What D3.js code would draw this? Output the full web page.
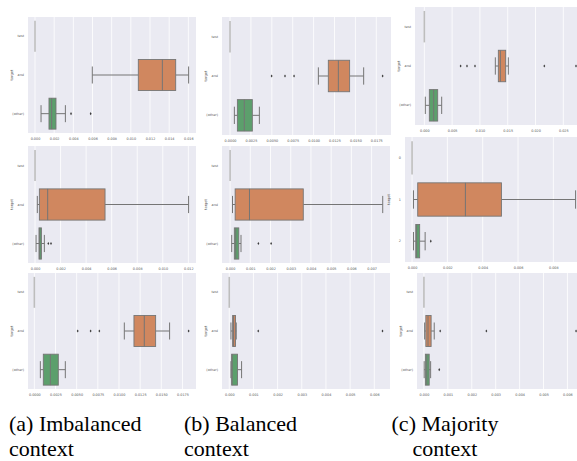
<!DOCTYPE html>
<html>
<head>
<meta charset="utf-8">
<script src="https://cdn.jsdelivr.net/npm/d3@7"></script>
<style>
  html, body { margin: 0; padding: 0; background: #fff; }
  svg { display: block; }
</style>
</head>
<body>
<div id="fig-div"></div>
<script>
// データ------------------------------------------------------------------------------
// パネル順: (a)(b)(c) x 3行
const categories = ['test', 'and', '(other)'];
const categoriesNum = ['0', '1', '2'];
const axisTitle = 'target';
const captions = [['(a) Imbalanced', 'context'], ['(b) Balanced', 'context'], ['(c) Majority', 'context']];

const xDomains = [
  [-0.00073, 0.0168], [-0.00096, 0.01926], [-0.00168, 0.02746],
  [-0.00055, 0.0126], [-0.0004, 0.00791], [-0.0004, 0.00934],
  [-0.00075, 0.0191], [-0.0003, 0.00665], [-0.00029, 0.0064]
];
const tickMax = [0.016, 0.0175, 0.025, 0.012, 0.007, 0.008, 0.0175, 0.006, 0.006];
const tickStep = [0.002, 0.0025, 0.005, 0.002, 0.001, 0.002, 0.0025, 0.001, 0.001];
const tickDigits = [3, 4, 3, 3, 3, 3, 4, 3, 3];

// [下ひげ, Q1, 中央値, Q3, 上ひげ]
const midStats = [
  [0.00598, 0.01078, 0.01329, 0.01468, 0.01603],
  [0.01057, 0.01176, 0.01296, 0.01431, 0.01599],
  [0.01277, 0.01331, 0.01367, 0.01463, 0.01511],
  [0.00018, 0.00034, 0.00099, 0.00548, 0.01202],
  [0.00012, 0.00025, 0.00096, 0.00362, 0.00755],
  [0.00008, 0.00032, 0.00302, 0.00506, 0.00926],
  [0.01063, 0.01177, 0.01299, 0.01433, 0.01598],
  [0.00007, 0.00014, 0.00018, 0.00026, 0.00029],
  [0.00003, 0.00008, 0.00017, 0.0003, 0.00043]
];
const midOutliers = [
  [],
  [0.00498, 0.00658, 0.00766, 0.01826],
  [0.00653, 0.00767, 0.00911, 0.02158, 0.02728],
  [],
  [],
  [],
  [0.00512, 0.00665, 0.00768, 0.01823],
  [0.0012, 0.00634],
  [0.00068, 0.00261, 0.00636]
];
const otherStats = [
  [0.00063, 0.00146, 0.00174, 0.00219, 0.00317],
  [0.00052, 0.00088, 0.00171, 0.00267, 0.00351],
  [0.00018, 0.0009, 0.00168, 0.0024, 0.00312],
  [0.00008, 0.00031, 0.00037, 0.0005, 0.00073],
  [0.00008, 0.00021, 0.00028, 0.00043, 0.00054],
  [0.00008, 0.00021, 0.00026, 0.00043, 0.00074],
  [0.00071, 0.00106, 0.00189, 0.00283, 0.00366],
  [0.00007, 0.0001, 0.00012, 0.00034, 0.00051],
  [0.00001, 0.00006, 0.00012, 0.00022, 0.00028]
];
const otherOutliers = [
  [0.00376, 0.00581],
  [],
  [],
  [0.00104, 0.00125],
  [0.0014, 0.00203],
  [0.00106],
  [],
  [],
  [0.00064]
];

// レイアウト [left, right, top, bottom]-------------------------------------------
const frames = [
  [28, 196, 17, 133], [222, 391, 17, 135], [415, 577, 7, 125],
  [28, 196, 146, 263], [222, 390, 146, 263], [405, 577, 137, 262],
  [28, 196, 273, 389], [222, 390, 273, 389], [417, 577, 273, 389]
];
const width = 577, height = 461;
const boxColors = ['#bdbdbd', '#d0875f', '#5c9f6c'];
const edge = '#757575';

const svg = d3.select('#fig-div')
  .append('svg')
  .attr('width', width)
  .attr('height', height);

// パネル作製ファンクション------------------------------------------------------------
const panelCreate = i => {
  const [left, right, top, bottom] = frames[i];
  const labels = i === 5 ? categoriesNum : categories;
  const x = d3.scaleLinear().domain(xDomains[i]).range([left, right]);
  const y = d3.scaleBand().domain([0, 1, 2]).range([top, bottom])
    .paddingInner(0.2).paddingOuter(0.1);
  const bw = y.bandwidth();
  const g = svg.append('g');

  // 背景とグリッド
  g.append('rect')
    .attr('x', left).attr('y', top)
    .attr('width', right - left).attr('height', bottom - top)
    .attr('fill', '#eaeaf2');
  const ticks = d3.range(0, tickMax[i] + tickStep[i] / 2, tickStep[i]);
  g.selectAll('.grid')
    .data(ticks)
    .enter()
    .append('line')
    .attr('x1', d => x(d)).attr('x2', d => x(d))
    .attr('y1', top).attr('y2', bottom)
    .attr('stroke', '#fff')
    .attr('stroke-width', 0.8);

  // x軸
  const xAxis = g.append('g')
    .attr('transform', 'translate(0,' + (bottom + 2) + ')')
    .call(d3.axisBottom(x).tickValues(ticks).tickSize(0).tickFormat(d3.format('.' + tickDigits[i] + 'f')));
  xAxis.select('.domain').remove();
  xAxis.selectAll('text')
    .attr('font-size', '3.4px')
    .attr('fill', '#555')
    .attr('font-family', 'DejaVu Sans');

  // y軸ラベル
  g.selectAll('.ylab')
    .data(labels)
    .enter()
    .append('text')
    .attr('x', left - 4)
    .attr('y', (d, k) => y(k) + bw / 2 + 1)
    .attr('text-anchor', 'end')
    .attr('font-size', '3.4px')
    .attr('fill', '#555')
    .attr('font-family', 'DejaVu Sans')
    .text(d => d);
  g.append('text')
    .attr('transform', 'translate(' + (left - 15) + ',' + (y(1) + bw / 2) + ') rotate(-90)')
    .attr('text-anchor', 'middle')
    .attr('font-size', '3.6px')
    .attr('fill', '#555')
    .attr('font-family', 'DejaVu Sans')
    .text(axisTitle);

  // カテゴリ0 (幅ゼロの箱)
  g.append('line')
    .attr('x1', x(0)).attr('x2', x(0))
    .attr('y1', y(0)).attr('y2', y(0) + bw)
    .attr('stroke', boxColors[0])
    .attr('stroke-width', 1.6);

  // 箱ひげ
  const drawBox = (k, s, outs) => {
    const cy = y(k) + bw / 2;
    const capH = bw * 0.55;
    g.append('line')
      .attr('x1', x(s[0])).attr('x2', x(s[1]))
      .attr('y1', cy).attr('y2', cy)
      .attr('stroke', edge).attr('stroke-width', 1);
    g.append('line')
      .attr('x1', x(s[3])).attr('x2', x(s[4]))
      .attr('y1', cy).attr('y2', cy)
      .attr('stroke', edge).attr('stroke-width', 1);
    [s[0], s[4]].forEach(v => {
      g.append('line')
        .attr('x1', x(v)).attr('x2', x(v))
        .attr('y1', cy - capH / 2).attr('y2', cy + capH / 2)
        .attr('stroke', edge).attr('stroke-width', 1);
    });
    g.append('rect')
      .attr('x', x(s[1])).attr('y', y(k))
      .attr('width', Math.max(x(s[3]) - x(s[1]), 0.5))
      .attr('height', bw)
      .attr('fill', boxColors[k])
      .attr('stroke', edge)
      .attr('stroke-width', 0.9);
    g.append('line')
      .attr('x1', x(s[2])).attr('x2', x(s[2]))
      .attr('y1', y(k)).attr('y2', y(k) + bw)
      .attr('stroke', edge).attr('stroke-width', 1);
    g.selectAll('.out' + k)
      .data(outs)
      .enter()
      .append('path')
      .attr('d', d3.symbol(d3.symbolDiamond, 3))
      .attr('transform', d => 'translate(' + x(d) + ',' + cy + ')')
      .attr('fill', '#3b3b3b');
  };
  drawBox(1, midStats[i], midOutliers[i]);
  drawBox(2, otherStats[i], otherOutliers[i]);
};
d3.range(9).forEach(panelCreate);

// キャプション-------------------------------------------------------------------------
const capPos = [[9, 'start'], [184, 'start'], [445, 'middle']];
captions.forEach((lines, c) => {
  lines.forEach((t, r) => {
    svg.append('text')
      .attr('x', capPos[c][0])
      .attr('y', 431 + r * 25)
      .attr('text-anchor', capPos[c][1])
      .style('font-family', '"Liberation Serif", "Times New Roman", serif')
      .attr('font-size', '22px')
      .attr('fill', '#000')
      .text(t);
  });
});
</script>
</body>
</html>
